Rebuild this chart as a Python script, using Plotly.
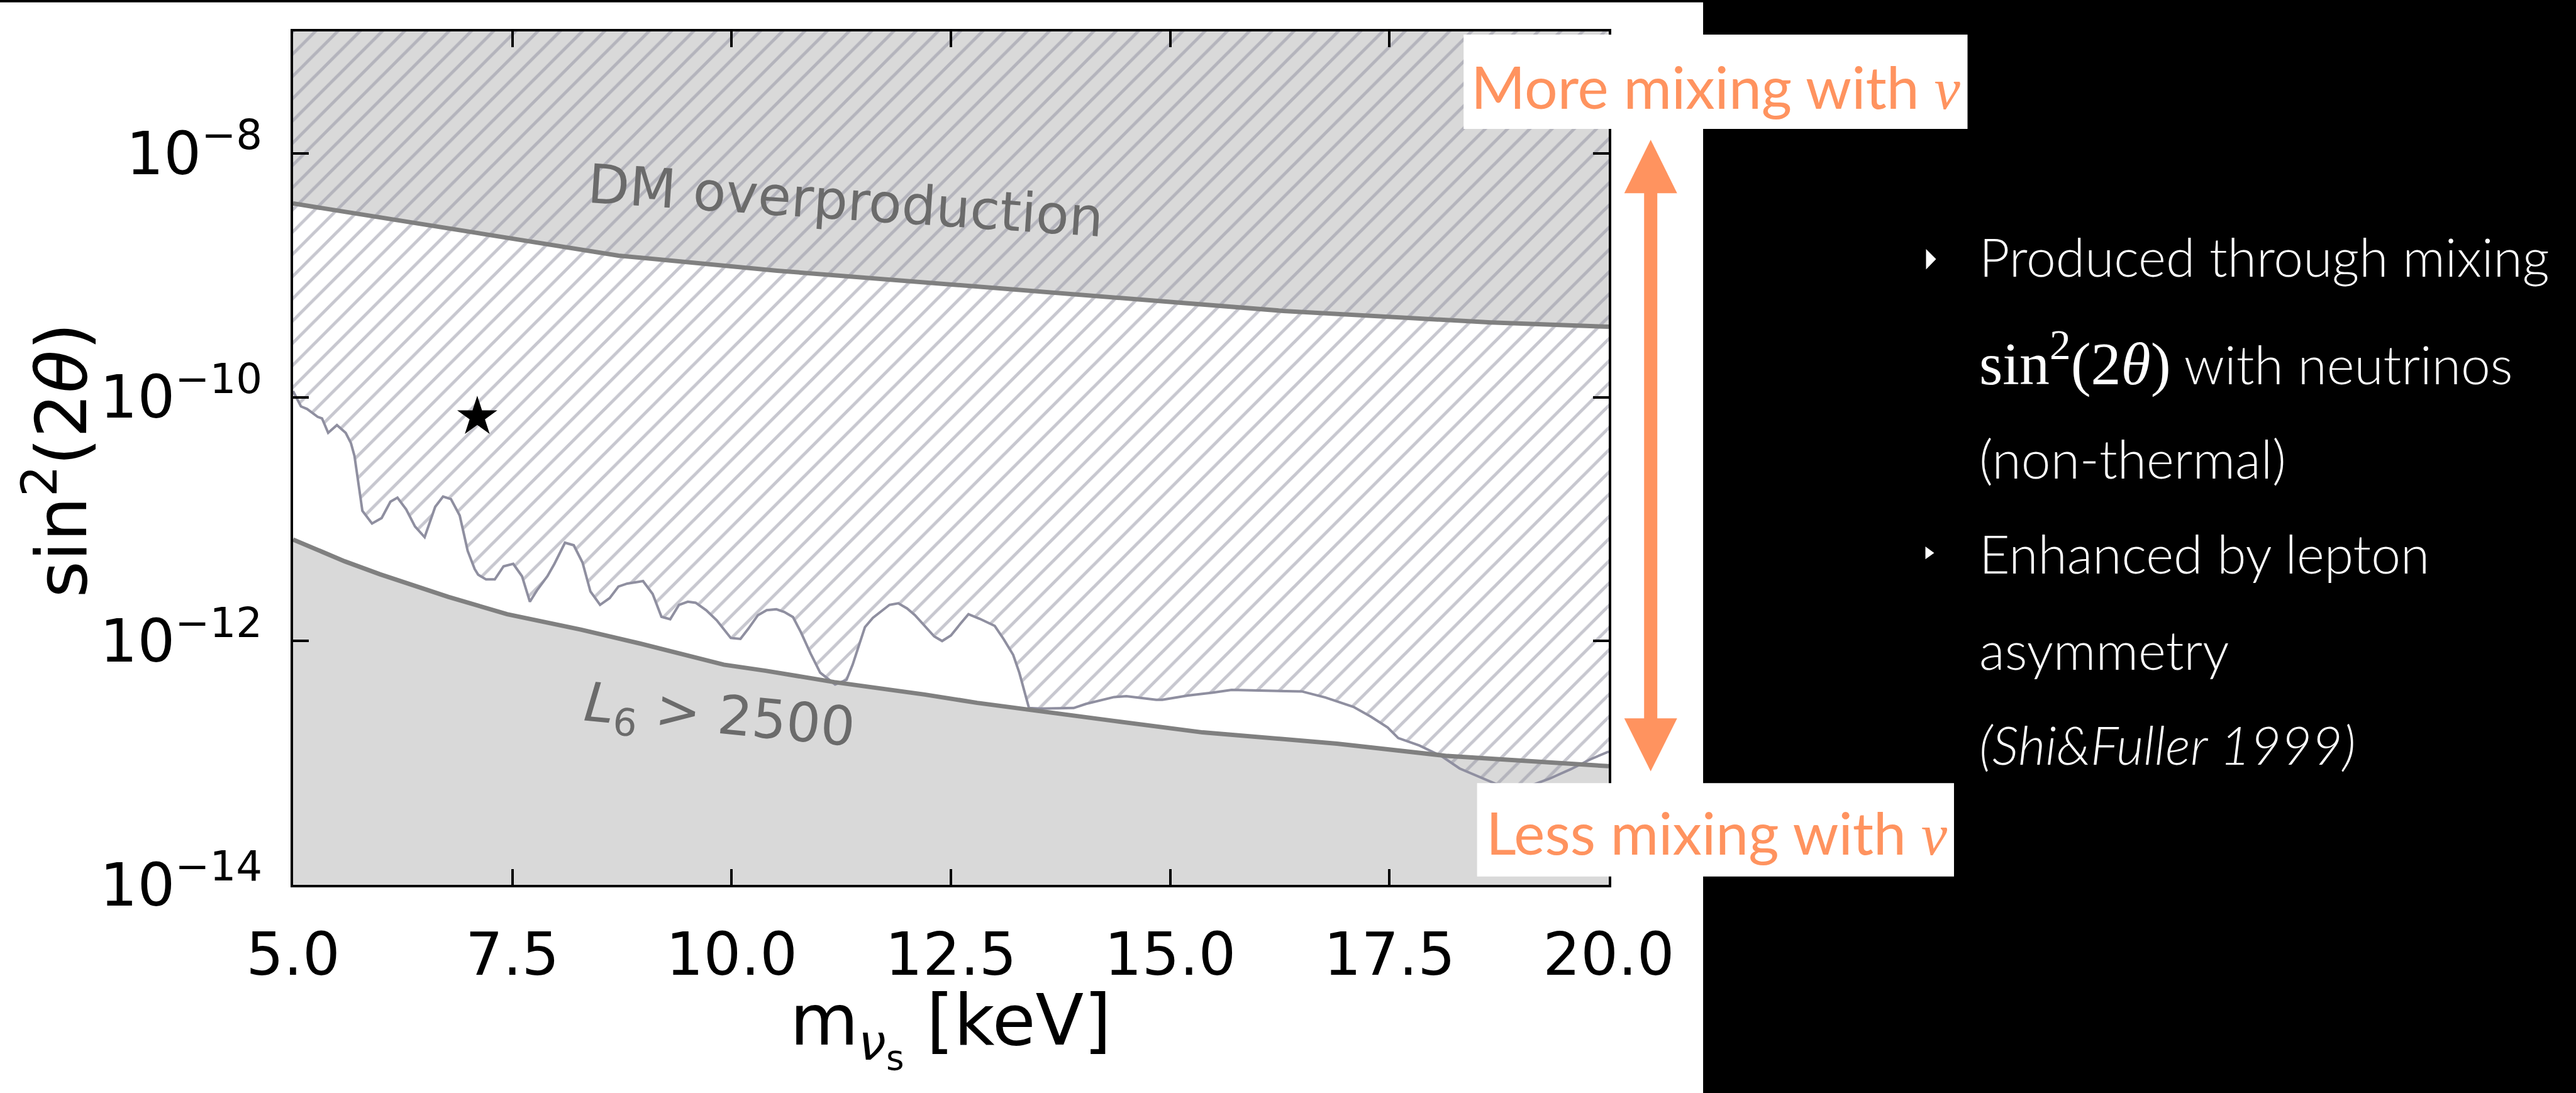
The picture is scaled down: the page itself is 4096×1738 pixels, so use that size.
import math
import plotly.graph_objects as go

# ------------------------------------------------------------------ data
# lower edge of the hatched exclusion region (sterile-neutrino mass [keV], sin^2(2θ))
excl_mass = [5.00, 5.09, 5.16, 5.28, 5.33, 5.40, 5.50, 5.60, 5.66, 5.70,
             5.79, 5.90, 6.01, 6.11, 6.19, 6.29, 6.39, 6.50, 6.62, 6.71,
             6.80, 6.86, 6.90, 6.97, 6.99, 7.07, 7.11, 7.20, 7.30, 7.40,
             7.51, 7.61, 7.70, 7.78, 7.90, 7.98, 8.10, 8.20, 8.30, 8.39,
             8.50, 8.61, 8.71, 8.81, 8.99, 9.10, 9.20, 9.30, 9.40, 9.50,
             9.59, 9.71, 9.83, 9.99, 10.10, 10.19, 10.30, 10.40, 10.51, 10.60,
             10.70, 10.79, 10.90, 11.01, 11.08, 11.18, 11.31, 11.38, 11.46, 11.52,
             11.61, 11.70, 11.80, 11.90, 12.00, 12.09, 12.21, 12.31, 12.40, 12.50,
             12.61, 12.70, 12.83, 13.00, 13.10, 13.21, 13.28, 13.33, 13.39, 13.52,
             13.66, 13.90, 14.04, 14.18, 14.36, 14.50, 14.84, 14.91, 15.20, 15.49,
             15.70, 16.50, 16.77, 17.09, 17.29, 17.48, 17.60, 17.84, 18.09, 18.30,
             18.58, 18.74, 19.00, 19.32, 19.57, 19.79, 20.00]
excl_mix = [1.12e-10, 8.4e-11, 8.0e-11, 6.9e-11, 6.7e-11, 5.1e-11, 5.9e-11, 5.1e-11, 4.2e-11, 3.3e-11,
            1.17e-11, 9.2e-12, 1.02e-11, 1.39e-11, 1.50e-11, 1.20e-11, 8.7e-12, 7.1e-12, 1.26e-11, 1.53e-11,
            1.46e-11, 1.22e-11, 1.07e-11, 6.4e-12, 5.5e-12, 3.9e-12, 3.5e-12, 3.2e-12, 3.2e-12, 4.1e-12,
            4.3e-12, 3.4e-12, 2.1e-12, 2.6e-12, 3.4e-12, 4.3e-12, 6.4e-12, 6.1e-12, 4.4e-12, 2.55e-12,
            1.98e-12, 2.25e-12, 2.8e-12, 2.96e-12, 3.1e-12, 2.43e-12, 1.58e-12, 1.51e-12, 1.98e-12, 2.1e-12,
            2.06e-12, 1.79e-12, 1.48e-12, 1.06e-12, 1.04e-12, 1.26e-12, 1.63e-12, 1.79e-12, 1.82e-12, 1.73e-12,
            1.57e-12, 1.18e-12, 7.9e-13, 5.5e-13, 5.0e-13, 4.4e-13, 4.8e-13, 6.4e-13, 9.6e-13, 1.30e-12,
            1.55e-12, 1.75e-12, 1.98e-12, 2.04e-12, 1.85e-12, 1.63e-12, 1.30e-12, 1.09e-12, 1.00e-12, 1.11e-12,
            1.39e-12, 1.66e-12, 1.52e-12, 1.33e-12, 1.04e-12, 7.7e-13, 5.5e-13, 4.1e-13, 2.82e-13, 2.79e-13,
            2.79e-13, 2.82e-13, 3.05e-13, 3.24e-13, 3.47e-13, 3.53e-13, 3.30e-13, 3.30e-13, 3.57e-13, 3.78e-13,
            3.97e-13, 3.86e-13, 3.44e-13, 2.88e-13, 2.39e-13, 1.95e-13, 1.60e-13, 1.39e-13, 1.14e-13, 9.0e-14,
            7.4e-14, 6.6e-14, 6.1e-14, 7.4e-14, 8.9e-14, 1.07e-13, 1.24e-13]

# dark-matter overproduction boundary
dm_mass = [5.0, 7.10, 8.71, 10.52, 13.91, 16.29, 18.66, 20.0]
dm_mix = [3.88e-9, 2.22e-9, 1.45e-9, 1.09e-9, 7.0e-10, 5.1e-10, 4.1e-10, 3.78e-10]

# lepton-asymmetry limit L6 = 2500
l6_mass = [5.0, 5.59, 5.99, 6.38, 6.77, 7.44, 8.28, 8.94, 9.91, 10.39,
           11.17, 12.20, 12.80, 14.36, 15.37, 16.90, 18.16, 20.0]
l6_mix = [6.8e-12, 4.5e-12, 3.53e-12, 2.82e-12, 2.30e-12, 1.66e-12, 1.24e-12, 9.6e-13, 6.4e-13, 5.7e-13,
          4.6e-13, 3.64e-13, 3.11e-13, 2.21e-13, 1.78e-13, 1.44e-13, 1.14e-13, 9.4e-14]

# 3.5 keV line candidate
star_mass = [7.1]
star_mix = [6.9e-11]

mass_range = [5.0, 20.0]
mix_range = [1e-14, 1e-7]
x_tick_vals = [5.0, 7.5, 10.0, 12.5, 15.0, 17.5, 20.0]
x_tick_text = ["5.0", "7.5", "10.0", "12.5", "15.0", "17.5", "20.0"]
y_tick_vals = [1e-14, 1e-12, 1e-10, 1e-8]
y_tick_text = ["10<sup>−14</sup>", "10<sup>−12</sup>", "10<sup>−10</sup>", "10<sup>−8</sup>"]

# ---------------------------------------------------------------- styling
W, H = 4096, 1738
PL, PR, PT, PB = 466.4, 2557.7, 50.3, 1406.6   # plot-area edges in px

FILL_GREY = "#d9d9d9"
LINE_GREY = "#808080"
HATCH = "#8f8fa0"
LABEL_GREY = "#6b6b6b"
ORANGE = "#ff935f"
AX_FONT = "DejaVu Sans"


def px(xp):
    return (xp - PL) / (PR - PL)


def py(yp):
    return (PB - yp) / (PB - PT)


fig = go.Figure()

top, bottom = mix_range[1], mix_range[0]

# shaded bands
fig.add_trace(go.Scatter(
    x=dm_mass + [dm_mass[-1], dm_mass[0]], y=dm_mix + [top, top],
    fill="toself", fillcolor=FILL_GREY, mode="none", hoverinfo="skip"))
fig.add_trace(go.Scatter(
    x=l6_mass + [l6_mass[-1], l6_mass[0]], y=l6_mix + [bottom, bottom],
    fill="toself", fillcolor=FILL_GREY, mode="none", hoverinfo="skip"))

# hatched exclusion region
fig.add_trace(go.Scatter(
    x=excl_mass + [excl_mass[-1], excl_mass[0]], y=excl_mix + [top, top],
    fill="toself", fillcolor="rgba(0,0,0,0)", mode="none", hoverinfo="skip",
    fillpattern=dict(shape="/", fgcolor=HATCH, bgcolor="rgba(0,0,0,0)",
                     size=25, solidity=0.2)))
fig.add_trace(go.Scatter(x=excl_mass, y=excl_mix, mode="lines",
                         line=dict(color=HATCH, width=4), hoverinfo="skip"))

# boundary curves
fig.add_trace(go.Scatter(x=dm_mass, y=dm_mix, mode="lines",
                         line=dict(color=LINE_GREY, width=7), hoverinfo="skip"))
fig.add_trace(go.Scatter(x=l6_mass, y=l6_mix, mode="lines",
                         line=dict(color=LINE_GREY, width=7), hoverinfo="skip"))

# candidate point
fig.add_trace(go.Scatter(x=star_mass, y=star_mix, mode="markers",
                         marker=dict(symbol="star", size=48, color="black",
                                     line=dict(width=0)), hoverinfo="skip"))

axis_common = dict(
    showgrid=False, zeroline=False, showline=True, linecolor="black", linewidth=4,
    mirror="allticks", ticks="inside", ticklen=25, tickwidth=4, tickcolor="black",
    tickfont=dict(family=AX_FONT, size=94, color="black"),
)
fig.update_xaxes(range=mass_range, tickmode="array", tickvals=x_tick_vals,
                 ticktext=x_tick_text, ticklabelstandoff=26, **axis_common)
fig.update_yaxes(type="log", range=[math.log10(mix_range[0]), math.log10(mix_range[1])],
                 tickmode="array", tickvals=y_tick_vals, ticktext=y_tick_text,
                 ticklabelstandoff=26, **axis_common)

annotations = []


def note(text, x, y, size, color, family, xanchor="center", yanchor="middle",
         angle=0, ref="paper", weight=None):
    font = dict(family=family, size=size, color=color)
    if weight is not None:
        font["weight"] = weight
    annotations.append(dict(text=text, x=x, y=y, xref=ref, yref=ref, showarrow=False,
                            xanchor=xanchor, yanchor=yanchor, textangle=angle,
                            font=font, borderpad=0, borderwidth=0))


# axis titles
note("sin<sup>2</sup>(2<i>θ</i>)", px(91), py(731), 112, "black", AX_FONT, angle=-90)
note("m<sub><i>ν</i><sub>s</sub></sub> [keV]", px(1512), py(1635), 112, "black", AX_FONT)

# region labels
annotations.append(dict(text="DM overproduction", x=11.30, y=math.log10(4.12e-9),
                        xref="x", yref="y", showarrow=False, textangle=3.8,
                        font=dict(family=AX_FONT, size=86, color=LABEL_GREY)))
annotations.append(dict(text="<i>L</i><sub>6</sub> &gt; 2500", x=9.86,
                        y=math.log10(2.32e-13), xref="x", yref="y", showarrow=False,
                        textangle=5.5, font=dict(family=AX_FONT, size=86, color=LABEL_GREY)))

# arrow captions
nu = '<span style="font-family:Liberation Serif"><i>ν</i></span>'
note("More mixing with " + nu, px(2728), py(137), 93, ORANGE, "Lato")
note("Less mixing with " + nu, px(2730), py(1323), 93, ORANGE, "Lato")

# bullet text
TX = px(3147)
serif = ('<span style="font-family:Liberation Serif;font-size:96px">'
         'sin<sup>2</sup>(2<i>θ</i>)</span>')
lines = [
    ("Produced through mixing", 440),
    (serif + " with neutrinos", 604),
    ("(non-thermal)", 760),
    ("Enhanced by lepton", 911),
    ("asymmetry", 1064),
    ("<i>(Shi&amp;Fuller 1999)</i>", 1215),
]
for txt, base in lines:
    note(txt, TX, py(base - 32), 84, "white", "Lato", xanchor="left", weight=300)

shapes = []
# white page area behind the chart
shapes.append(dict(type="rect", xref="paper", yref="paper", layer="below",
                   x0=px(0), x1=px(2707.7), y0=py(4.1), y1=py(H),
                   fillcolor="white", line=dict(width=0)))
# caption boxes
for x0, x1, y0, y1 in [(2327, 3128, 55.2, 205.2), (2348.4, 3106.5, 1245, 1393.4)]:
    shapes.append(dict(type="rect", xref="paper", yref="paper", layer="above",
                       x0=px(x0), x1=px(x1), y0=py(y0), y1=py(y1),
                       fillcolor="white", line=dict(width=0)))


def tri(pts, color):
    d = "M " + " L ".join(f"{px(a):.6f},{py(b):.6f}" for a, b in pts) + " Z"
    return dict(type="path", path=d, xref="paper", yref="paper", layer="above",
                fillcolor=color, line=dict(width=0))


# double-headed arrow
shapes.append(dict(type="rect", xref="paper", yref="paper", layer="above",
                   x0=px(2613.9), x1=px(2634.9), y0=py(300), y1=py(1150),
                   fillcolor=ORANGE, line=dict(width=0)))
shapes.append(tri([(2582.4, 307.4), (2624.4, 222.5), (2666.4, 307.4)], ORANGE))
shapes.append(tri([(2582.4, 1142), (2624.4, 1226.1), (2666.4, 1142)], ORANGE))
# bullets
shapes.append(tri([(3062, 396), (3062, 428.5), (3078, 412)], "white"))
shapes.append(tri([(3061, 869), (3061, 889), (3075, 879)], "white"))

fig.update_layout(
    width=W, height=H, autosize=False,
    margin=dict(l=PL, r=W - PR, t=PT, b=H - PB, pad=0),
    paper_bgcolor="black", plot_bgcolor="white",
    showlegend=False, annotations=annotations, shapes=shapes,
)

fig.write_html("out.html", config={"displayModeBar": False})
